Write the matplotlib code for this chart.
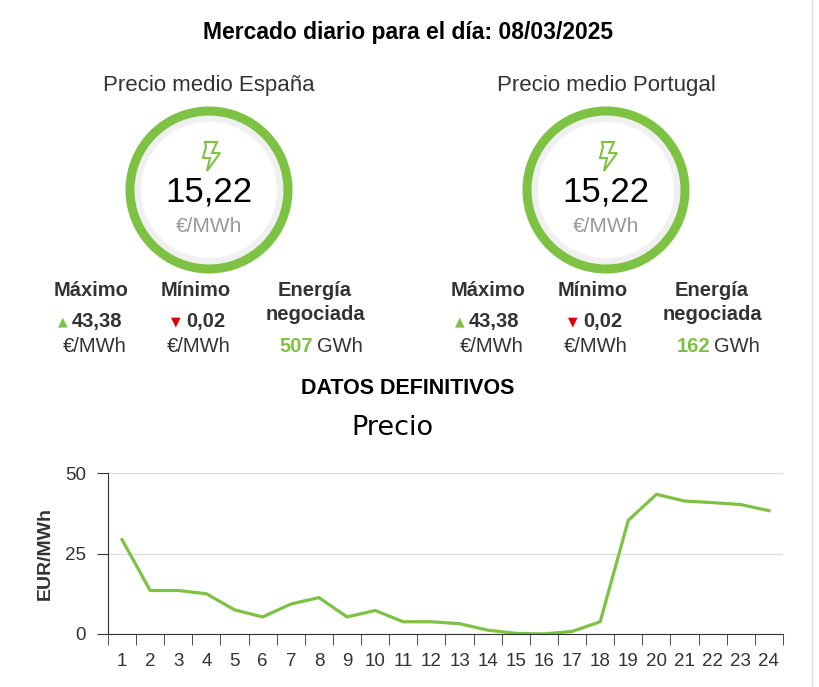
import matplotlib
matplotlib.use("Agg")
import matplotlib.pyplot as plt
from matplotlib.patches import Circle, Polygon

plt.rcParams['font.family'] = ['Liberation Sans', 'DejaVu Sans']

hours = list(range(1, 25))
prices = [29.3, 13.5, 13.5, 12.5, 7.5, 5.3, 9.3, 11.3, 5.3, 7.3, 3.8, 3.8,
          3.2, 1.2, 0.2, 0.02, 0.8, 3.8, 35.3, 43.38, 41.3, 40.8, 40.2, 38.3]
markets = ["España", "Portugal"]
mean_price = ["15,22", "15,22"]
max_price = ["43,38", "43,38"]
min_price = ["0,02", "0,02"]
energy = ["507", "162"]

GREEN = "#7dc242"
W, H = 820, 687
fig = plt.figure(figsize=(W/100, H/100), dpi=100)
ov = fig.add_axes([0, 0, 1, 1])
ov.set_xlim(0, W); ov.set_ylim(H, 0); ov.axis('off')

ov.text(408, 32, "Mercado diario para el día: 08/03/2025", ha='center', va='center',
        fontsize=16.5, fontweight='bold')
for i, cx in enumerate([209, 606]):
    ov.text(cx, 85, f"Precio medio {markets[i]}", ha='center', va='center', fontsize=16, color='#333333')
    ov.add_patch(Circle((cx, 190), 73, fill=False, ec='#f0f0f0', lw=7))
    ov.add_patch(Circle((cx, 190), 79, fill=False, ec=GREEN, lw=6.5))
    bolt = [(cx-4, 142), (cx+8, 142), (cx+3, 153), (cx+11, 153), (cx-2, 171),
            (cx+1, 158), (cx-6, 158), (cx-3, 147)]
    ov.add_patch(Polygon(bolt, closed=True, fill=False, ec=GREEN, lw=1.5))
    ov.text(cx, 192, mean_price[i], ha='center', va='center', fontsize=25, color='black')
    ov.text(cx, 226, "€/MWh", ha='center', va='center', fontsize=15, color='#999999')
    c1, c2, c3 = cx-118, cx-13, cx+106
    kw = dict(ha='center', va='center', fontsize=14.5, color='#333333')
    ov.text(c1, 290, "Máximo", fontweight='bold', **kw)
    ov.text(c1-28, 322, "▲", ha='center', va='center', fontsize=9, color=GREEN, family='DejaVu Sans')
    ov.text(c1+6, 322, max_price[i], fontweight='bold', **kw)
    ov.text(c1+4, 347, "€/MWh", **kw)
    ov.text(c2, 290, "Mínimo", fontweight='bold', **kw)
    ov.text(c2-20, 322, "▼", ha='center', va='center', fontsize=9, color='#e00000', family='DejaVu Sans')
    ov.text(c2+10, 322, min_price[i], fontweight='bold', **kw)
    ov.text(c2+3, 347, "€/MWh", **kw)
    ov.text(c3, 290, "Energía", fontweight='bold', **kw)
    ov.text(c3, 314, "negociada", fontweight='bold', **kw)
    ov.text(c3-2, 347, energy[i], ha='right', va='center', fontsize=14.5, fontweight='bold', color=GREEN)
    ov.text(c3+2, 347, "GWh", ha='left', va='center', fontsize=14.5, color='#333333')
ov.text(408, 389, "DATOS DEFINITIVOS", ha='center', va='center', fontsize=15.5, fontweight='bold')
ov.text(392, 428, "Precio", ha='center', va='center', fontsize=19.5, color='black', family='DejaVu Sans')
ov.plot([812, 812], [0, H], color='#dddddd', lw=1)

ax = fig.add_axes([108/W, 1-634/H, (783-108)/W, (634-473)/H])
ax.plot(hours, prices, color=GREEN, lw=2.3)
ax.set_xlim(0.5, 24.5); ax.set_ylim(0, 50)
ax.set_yticks([0, 25, 50])
ax.set_xticks(hours)
ax.set_xticks([h+0.5 for h in range(0, 25)], minor=True)
ax.tick_params(axis='x', which='major', length=0, labelsize=13.5, pad=14, colors='#333333')
ax.tick_params(axis='x', which='minor', length=8, color='#333333')
ax.tick_params(axis='y', length=8, labelsize=13.5, colors='#333333', pad=8)
ax.grid(axis='y', color='#dddddd', lw=1)
ax.set_axisbelow(True)
for s in ['top', 'right']:
    ax.spines[s].set_visible(False)
ax.spines['left'].set_color('#333333'); ax.spines['bottom'].set_color('#333333')
ax.set_ylabel("EUR/MWh", fontsize=14, fontweight='bold', color='#333333', labelpad=8)
fig.savefig("out.png", dpi=100)
